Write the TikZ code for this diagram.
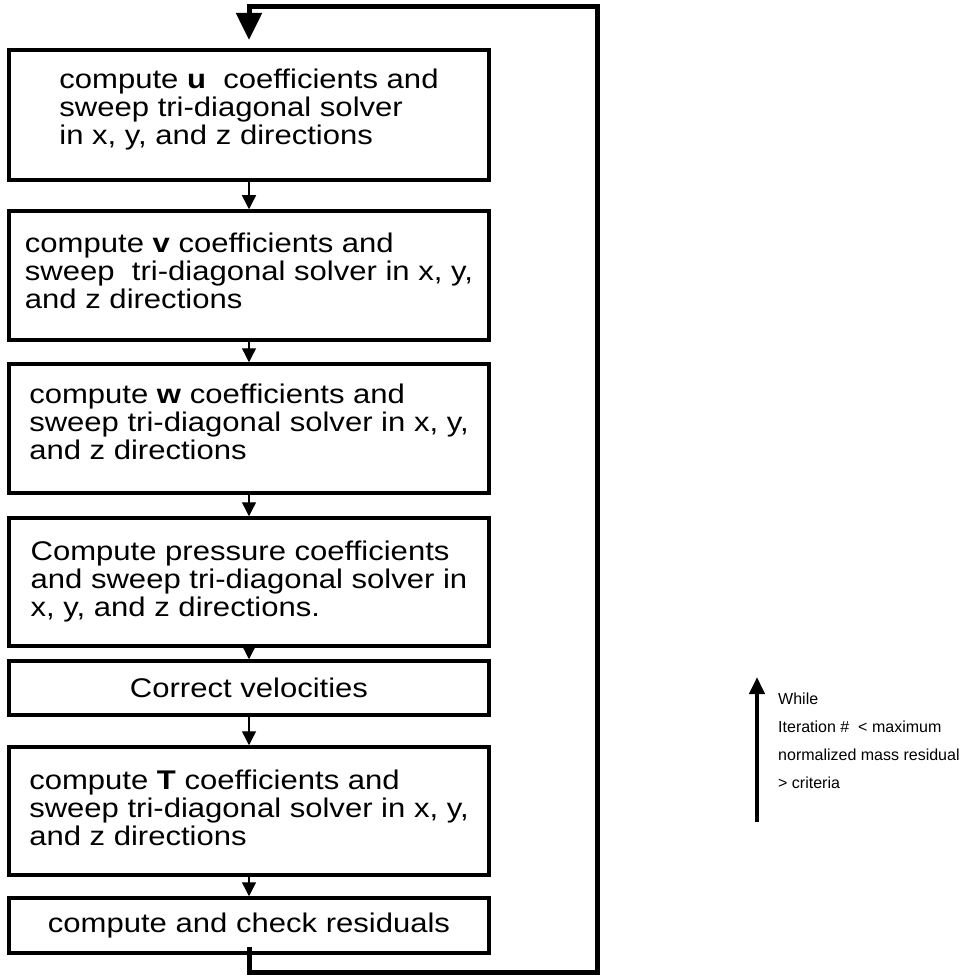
\documentclass[tikz,border=0pt]{standalone}
\usepackage{fontspec}
\setmainfont{Liberation Sans}[FakeStretch=1.15]
\newfontfamily\notefont{Liberation Sans}
\usetikzlibrary{arrows.meta}

\tikzset{
  stepbox/.style={draw, line width=3.5pt, rectangle, minimum width=480pt,
    align=left, inner sep=0pt, font=\fontsize{27}{28}\selectfont},
  lift/.style={text depth=#1},
  flow/.style={line width=1.4pt, -{Triangle[width=14pt,length=14pt]}},
  loopline/.style={line width=5pt, line join=miter,
    -{Triangle[width=25pt,length=27pt]}},
  whilearrow/.style={line width=4pt, -{Triangle[width=15pt,length=17pt]}},
  notetext/.style={align=left, inner sep=0pt,
    font=\notefont\fontsize{16}{28}\selectfont},
}

\begin{document}
\begin{tikzpicture}[x=1pt, y=-1pt]
  \useasboundingbox (0,0) rectangle (964,976);

  % solver steps of one outer iteration
  \node[stepbox, minimum height=130pt, lift=16pt] (b1) at (249,115)
    {compute \textbf{u}\ \ coefficients and\\sweep tri-diagonal solver\\in x, y, and z directions};
  \node[stepbox, minimum height=129pt, lift=10pt] (b2) at (249,275.5)
    {compute \textbf{v} coefficients and\\sweep\ \ tri-diagonal solver in x, y,\\and z directions};
  \node[stepbox, minimum height=129pt, lift=14pt] (b3) at (249,428.5)
    {compute \textbf{w} coefficients and\\sweep tri-diagonal solver in x, y,\\and z directions};
  \node[stepbox, minimum height=128pt] (b4) at (249,582)
    {Compute pressure coefficients\\and sweep tri-diagonal solver in\\x, y, and z directions.};
  \node[stepbox, minimum height=54pt] (b5) at (249,688)
    {Correct velocities};
  \node[stepbox, minimum height=128pt, lift=7pt] (b6) at (249,811)
    {compute \textbf{T} coefficients and\\sweep tri-diagonal solver in x, y,\\and z directions};
  \node[stepbox, minimum height=55pt] (b7) at (249,925.5)
    {compute and check residuals};

  % step-to-step connectors
  \draw[flow] (b1.south) -- (b2.north);
  \draw[flow] (b2.south) -- (b3.north);
  \draw[flow] (b3.south) -- (b4.north);
  \draw[flow] (b4.south) -- (b5.north);
  \draw[flow] (b5.south) -- (b6.north);
  \draw[flow] (b6.south) -- (b7.north);

  % return path of the iteration loop
  \coordinate (loopstart) at ([yshift=8pt]b7.south);
  \coordinate (loopbl) at (249,972);
  \coordinate (loopbr) at (597,972);
  \coordinate (looptr) at (597,7);
  \coordinate (looptl) at (249,7);
  \coordinate (loopend) at (249,40);
  \draw[loopline] (loopstart) -- (loopbl) -- (loopbr) -- (looptr)
    -- (looptl) -- (loopend);

  % loop condition
  \coordinate (wbot) at (757,822);
  \coordinate (wtop) at (757,677);
  \draw[whilearrow] (wbot) -- (wtop);
  \node[notetext, anchor=north west] (cond) at (778,693)
    {While\\Iteration \#\ \ < maximum\\normalized mass residual\\> criteria};
\end{tikzpicture}
\end{document}
